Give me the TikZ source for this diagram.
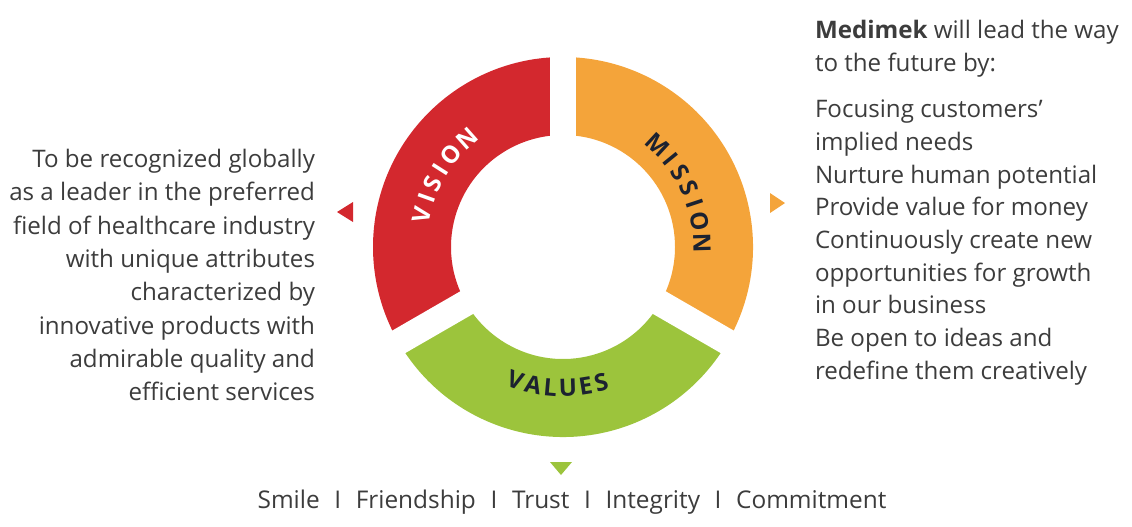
\documentclass[tikz,border=0pt]{standalone}
\usepackage{fontspec}
\setmainfont{Open Sans}
\usetikzlibrary{calc}

\definecolor{visred}{HTML}{D3282E}
\definecolor{misorange}{HTML}{F4A43A}
\definecolor{valgreen}{HTML}{9CC43C}
\definecolor{txtgray}{HTML}{3C3C3C}
\definecolor{lblnavy}{HTML}{1C2230}

\begin{document}
\begin{tikzpicture}[x=0.75pt,y=0.75pt,
  body/.style={inner sep=0pt,outer sep=0pt,text=txtgray,font=\fontsize{18.1}{25}\selectfont},
  ringlabel/.style={inner sep=0pt,outer sep=0pt,font=\bfseries\fontsize{18}{18}\selectfont},
  gap/.style={white,line width=19.5pt}]
  \useasboundingbox (0,0) rectangle (1132,-526);
  \coordinate (c) at (563,-247);
  \fill[visred] ($(c)+(90:190)$) arc[start angle=90,end angle=210,radius=190]
    -- ($(c)+(210:112)$) arc[start angle=210,end angle=90,radius=112] -- cycle;
  \fill[misorange] ($(c)+(-30:190)$) arc[start angle=-30,end angle=90,radius=190]
    -- ($(c)+(90:112)$) arc[start angle=90,end angle=-30,radius=112] -- cycle;
  \fill[valgreen] ($(c)+(210:190)$) arc[start angle=210,end angle=330,radius=190]
    -- ($(c)+(330:112)$) arc[start angle=330,end angle=210,radius=112] -- cycle;
  \draw[gap] (c) -- ++(90:200);
  \draw[gap] (c) -- ++(210:200);
  \draw[gap] (c) -- ++(330:200);
  \foreach \ch/\a [count=\k] in {V/167.1,I/160.4,S/154.0,I/147.6,O/140.4,N/131.5}
    \node[ringlabel,text=white,rotate=\a-90] (vis\k) at ($(c)+(\a:145)$) {\ch};
  \foreach \ch/\a [count=\k] in {M/47.3,I/39.2,S/32.5,S/25.0,I/18.3,O/10.8,N/1.5}
    \node[ringlabel,text=lblnavy,rotate=\a-90] (mis\k) at ($(c)+(\a:139)$) {\ch};
  \foreach \ch/\a [count=\k] in {V/250.3,A/257.8,L/264.9,U/272.0,E/279.2,S/285.7}
    \node[ringlabel,text=lblnavy,rotate=\a+90] (val\k) at ($(c)+(\a:141)$) {\ch};
  \coordinate (vtip) at (337,-212);
  \coordinate (mtip) at (785,-203);
  \coordinate (gtip) at (561,-475);
  \fill[visred] (vtip) -- ++(16,10) -- ++(0,-20) -- cycle;
  \fill[misorange] (mtip) -- ++(-15,10) -- ++(0,-20) -- cycle;
  \fill[valgreen] (gtip) -- ++(-11,13) -- ++(22,0) -- cycle;
  \node[body,align=right,anchor=north east] (vistext) at (315,-149)
    {To be recognized globally\\as a leader in the preferred\\field of healthcare industry\\with unique attributes\\characterized by\\innovative products with\\admirable quality and\\efficient services};
  \node[body,align=left,anchor=north west] (mishead) at (815,-20)
    {\textbf{Medimek} will lead the way\\to the future by:};
  \node[body,align=left,anchor=north west,font=\fontsize{18.1}{24.5}\selectfont] (mistext) at (815,-100)
    {Focusing customers'\\implied needs\\Nurture human potential\\Provide value for money\\Continuously create new\\opportunities for growth\\in our business\\Be open to ideas and\\redefine them creatively};
  \node[body,anchor=base,font=\fontsize{18.3}{25}\selectfont] (valtext) at (572,-508)
    {Smile\hspace{0.6em}I\hspace{0.6em}Friendship\hspace{0.6em}I\hspace{0.6em}Trust\hspace{0.6em}I\hspace{0.6em}Integrity\hspace{0.6em}I\hspace{0.6em}Commitment};
\end{tikzpicture}
\end{document}
